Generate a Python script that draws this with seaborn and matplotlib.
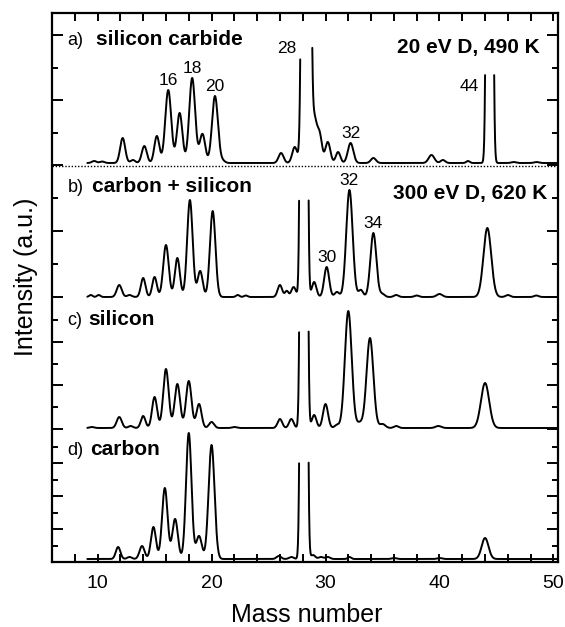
import numpy as np
import pandas as pd
import matplotlib
matplotlib.use("Agg")
import matplotlib.pyplot as plt
import seaborn as sns
from matplotlib.ticker import MultipleLocator, FixedLocator, NullFormatter

# Peak tables: mass, height (a.u.), width (sigma, amu).
mass_a = [9.7, 10.4, 12.2, 13.1, 14.1, 15.2, 16.2, 17.2, 18.3, 19.2, 20.3, 21.0, 26.1, 27.3,
          28.3, 29.0, 29.5, 30.2, 31.1, 32.2, 34.2, 39.3, 40.3, 42.5, 44.4, 46.5, 48.5]
height_a = [2, 1.5, 25, 3, 17, 27, 73, 50, 85, 29, 67, 2, 10, 16,
            3000, 45, 25, 21, 11, 20, 5, 8, 3, 2, 2000, 1, 1]
width_a = [0.2, 0.2, 0.22, 0.2, 0.22, 0.22, 0.26, 0.24, 0.26, 0.24, 0.26, 0.2, 0.22, 0.22,
           0.2, 0.25, 0.2, 0.22, 0.2, 0.24, 0.22, 0.25, 0.2, 0.15, 0.16, 0.2, 0.2]

mass_b = [9.4, 10.1, 11.9, 12.8, 14.0, 15.0, 16.0, 17.0, 18.1, 19.0, 20.1, 22.3, 23.0, 26.0,
          26.6, 27.2, 28.1, 29.0, 30.1, 31.0, 32.1, 33.1, 34.2, 35.0, 36.2, 38.0, 40.0, 44.2,
          46.0, 48.5]
height_b = [2, 2, 12, 2, 19, 20, 52, 39, 97, 26, 86, 2, 1.5, 12,
            6, 10, 3000, 15, 30, 5, 107, 7, 64, 3, 2, 1.5, 3, 69,
            2, 1.5]
width_b = [0.15, 0.15, 0.22, 0.2, 0.2, 0.2, 0.24, 0.22, 0.24, 0.22, 0.24, 0.15, 0.15, 0.2,
           0.15, 0.2, 0.16, 0.2, 0.22, 0.2, 0.28, 0.2, 0.26, 0.2, 0.2, 0.2, 0.25, 0.34,
           0.2, 0.2]

mass_c = [9.5, 11.9, 12.9, 14.0, 15.0, 16.0, 17.0, 18.0, 18.9, 20.0, 22.0, 26.0, 27.0, 28.1,
          29.0, 30.0, 31.0, 32.0, 33.0, 33.9, 35.0, 36.2, 39.9, 44.0]
height_c = [1, 11, 2, 12, 31, 59, 44, 47, 24, 6, 1, 9, 9, 3000,
            13, 24, 3, 117, 5, 90, 4, 2, 2, 45]
width_c = [0.2, 0.22, 0.2, 0.2, 0.22, 0.24, 0.24, 0.24, 0.22, 0.22, 0.2, 0.2, 0.2, 0.16,
           0.2, 0.22, 0.2, 0.3, 0.25, 0.3, 0.25, 0.2, 0.25, 0.36]

mass_d = [11.8, 12.8, 13.9, 14.9, 15.9, 16.8, 18.0, 18.9, 20.0, 25.9, 27.0, 28.1, 28.9, 29.6,
          30.2, 32.1, 36.0, 40.0, 44.0]
height_d = [12, 2, 13, 32, 71, 40, 126, 23, 114, 3, 2, 3000, 4, 2,
            2, 2, 1, 1, 21]
width_d = [0.2, 0.2, 0.22, 0.22, 0.24, 0.24, 0.24, 0.24, 0.26, 0.2, 0.2, 0.16, 0.2, 0.2,
           0.2, 0.15, 0.2, 0.2, 0.3]

panels = ["a)", "b)", "c)", "d)"]
names = ["silicon carbide", "carbon + silicon", "silicon", "carbon"]
conditions = ["20 eV D, 490 K", "300 eV D, 620 K"]
peak_labels_a = ["16", "18", "20", "32"]
cut_labels_a = ["28", "44"]
peak_labels_b = ["30", "32", "34"]

# stacking / layout (plot units)
offsets = [397, 265, 133, 0]
background = [2, 0, 1, 3]
tick_step = [32.5, 33, 21.8, 16.5]
tick_count = [5, 4, 6, 8]
# traces are cut where they run into the panel above: (mass from, mass to, level)
cuts = [[(0, 36, 527), (36, 60, 489)], [(0, 60, 396)], [(0, 60, 262)], [(0, 60, 132)]]

tables = [(mass_a, height_a, width_a), (mass_b, height_b, width_b),
          (mass_c, height_c, width_c), (mass_d, height_d, width_d)]

grid = np.arange(9.1, 50.42, 0.02)
frames = []
for i, (m, h, w) in enumerate(tables):
    y = np.full_like(grid, offsets[i] + background[i], dtype=float)
    for mm, hh, ww in zip(m, h, w):
        y += hh * np.exp(-0.5 * ((grid - mm) / ww) ** 2)
    cap = np.zeros_like(grid)
    for lo, hi, lev in cuts[i]:
        cap[(grid >= lo) & (grid < hi)] = lev
    keep = y <= cap
    seg = np.cumsum(~keep)
    frames.append(pd.DataFrame({"mass": grid[keep], "y": y[keep],
                                "seg": [f"{i}-{s}" for s in seg[keep]]}))
df = pd.concat(frames, ignore_index=True)

sns.set_style("ticks")
plt.rcParams["font.family"] = ["Liberation Sans", "DejaVu Sans"]
for key in ["text.color", "axes.labelcolor", "xtick.color", "ytick.color", "axes.edgecolor"]:
    plt.rcParams[key] = "black"

fig = plt.figure(figsize=(5.65, 6.27), dpi=100)
ax = fig.add_axes([52 / 565, 1 - 562 / 627, 506 / 565, 549 / 627])

sns.lineplot(data=df, x="mass", y="y", units="seg", estimator=None, sort=False,
             color="black", lw=1.4, ax=ax)

# dotted divider under the top spectrum
ax.axhline(offsets[0] - 1, color="black", lw=1.0, ls=(0, (1, 1.3)))

ax.set_xlim(6, 50.4)
ax.set_ylim(0, 549)

major_y, minor_y = [], []
for i in range(4):
    for k in range(tick_count[i]):
        (major_y if k % 2 == 0 else minor_y).append(offsets[i] + k * tick_step[i])
ax.yaxis.set_major_locator(FixedLocator(major_y))
ax.yaxis.set_minor_locator(FixedLocator(minor_y))
ax.yaxis.set_major_formatter(NullFormatter())
ax.xaxis.set_major_locator(MultipleLocator(10))
ax.xaxis.set_minor_locator(MultipleLocator(2))

ax.tick_params(axis="x", which="both", direction="in", top=True, length=6, width=1.4,
               labelsize=14, pad=9)
ax.tick_params(axis="y", which="major", direction="in", left=True, right=True, length=8, width=1.4)
ax.tick_params(axis="y", which="minor", direction="in", left=True, right=True, length=4.5, width=1.4)
for sp in ax.spines.values():
    sp.set_linewidth(1.6)
    sp.set_visible(True)

ax.set_xlabel("Mass number", fontsize=18)
ax.set_ylabel("Intensity (a.u.)", fontsize=18)
ax.xaxis.set_label_coords(0.504, -0.075)
ax.yaxis.set_label_coords(-0.028, 0.52)

# panel captions
label_y = [0.942, 0.674, 0.432, 0.195]
name_x = [0.087, 0.079, 0.071, 0.075]
for i in range(4):
    ax.text(0.031, label_y[i], panels[i], transform=ax.transAxes, fontsize=13, va="baseline")
    ax.text(name_x[i], label_y[i], names[i], transform=ax.transAxes, fontsize=15,
            fontweight="bold", va="baseline")
ax.text(0.964, 0.927, conditions[0], transform=ax.transAxes, fontsize=15, fontweight="bold",
        ha="right", va="baseline")
ax.text(0.978, 0.661, conditions[1], transform=ax.transAxes, fontsize=15, fontweight="bold",
        ha="right", va="baseline")


def peak_top(i, lab):
    m = tables[i][0]
    j = int(np.argmin([abs(v - float(lab)) for v in m]))
    return m[j], offsets[i] + background[i] + tables[i][1][j]


for lab in peak_labels_a:
    x, top = peak_top(0, lab)
    ax.text(x, top + 5, lab, fontsize=12.5, ha="center", va="baseline")
for lab, (lo, hi, lev) in zip(cut_labels_a, cuts[0]):
    x, _ = peak_top(0, lab)
    ax.text(x - 0.9, lev - 18, lab, fontsize=12.5, ha="right", va="baseline")
for lab in peak_labels_b:
    x, top = peak_top(1, lab)
    ax.text(x, top + 5, lab, fontsize=12.5, ha="center", va="baseline")

fig.savefig("out.png", dpi=100)
